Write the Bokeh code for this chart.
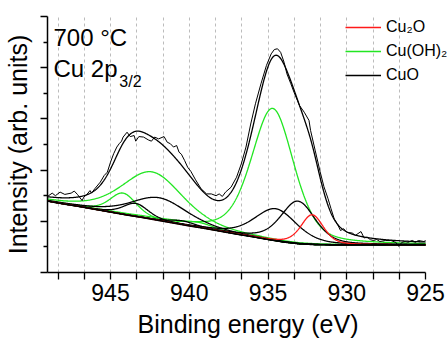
import numpy as np
from bokeh.plotting import figure
from bokeh.models import (Range1d, FixedTicker, Label, Legend, LegendItem)
from bokeh.embed import file_html
from bokeh.resources import INLINE

FONT = "Liberation Sans"

# ---- measured spectrum (binding energy eV, intensity arb.) ----
DATA_E = [949.0, 948.7, 948.5, 948.2, 947.9, 947.5, 947.3, 947.1, 946.8, 946.7,
          946.5, 946.3, 946.2, 946.0, 945.65, 945.4, 945.2, 945.0, 944.8, 944.6,
          944.45, 944.3, 944.2, 943.95, 943.75, 943.5, 943.4, 943.2, 942.9, 942.6,
          942.4, 942.2, 941.95, 941.6, 941.4, 941.2, 941.0, 940.8, 940.65, 940.5,
          940.3, 940.1, 939.9, 939.6, 939.25, 938.9, 938.6, 938.3, 938.1, 937.9,
          937.7, 937.35, 937.0, 936.7, 936.4, 936.1, 935.8, 935.45, 935.1, 934.8,
          934.6, 934.4, 934.2, 933.98, 933.8, 933.55, 933.35, 933.0, 932.7, 932.4,
          932.3, 932.0, 931.7, 931.45, 931.2, 931.0, 930.8, 930.6, 930.4, 930.2,
          930.0, 929.65, 929.45, 929.1, 928.9, 928.7, 928.5, 928.3, 928.1, 927.9,
          927.55, 927.2, 926.9, 926.7, 926.5, 926.3, 926.1, 925.85, 925.65, 925.45,
          925.1, 925.0]
DATA_Y = [2.97, 3.10, 3.00, 3.14, 3.05, 3.10, 3.18, 3.05, 2.81, 2.94,
          3.05, 3.20, 3.10, 3.27, 3.53, 3.79, 3.92, 4.31, 4.64, 4.90,
          5.03, 5.13, 5.29, 5.48, 5.31, 5.35, 5.13, 5.31, 5.29, 5.18,
          5.13, 5.29, 5.22, 5.31, 5.09, 5.03, 4.90, 4.96, 4.70, 4.62,
          4.38, 4.11, 3.95, 3.62, 3.27, 3.07, 3.07, 3.00, 3.07, 2.97,
          3.14, 3.33, 3.72, 4.24, 4.90, 5.80, 6.59, 7.37, 8.09, 8.54,
          8.71, 8.74, 8.60, 8.21, 7.76, 7.37, 7.04, 6.52, 6.26, 5.94,
          5.55, 4.75, 3.95, 3.35, 2.90, 2.49, 2.10, 1.90, 1.64, 1.71,
          1.57, 1.54, 1.45, 1.60, 1.35, 1.38, 1.28, 1.25, 1.29, 1.21,
          1.25, 1.25, 1.18, 1.02, 1.18, 1.21, 1.18, 1.25, 1.18, 1.25,
          1.21, 1.25]

# ---- fitted background (read every 1 eV) ----
BG_E = [925, 926, 927, 928, 929, 930, 931, 932, 933, 934, 935, 936, 937,
        938, 939, 940, 941, 942, 943, 944, 945, 946, 947, 948, 949]
BG_Y = [1.08, 1.08, 1.08, 1.08, 1.08, 1.08, 1.08, 1.09, 1.12, 1.19, 1.29, 1.40, 1.50,
        1.61, 1.72, 1.82, 1.93, 2.04, 2.15, 2.25, 2.36, 2.47, 2.58, 2.68, 2.79]

# ---- fitted components: centre (eV), height, FWHM (eV) ----
CU2O_C = [932.2]
CU2O_H = [1.16]
CU2O_W = [1.7]

CUOH2_C = [934.7, 942.35, 944.2, 939.5]
CUOH2_H = [5.15, 1.85, 0.83, 0.20]
CUOH2_W = [3.2, 4.6, 2.0, 2.5]

CUO_C = [933.1, 934.5, 941.9, 943.4, 940.4]
CUO_H = [1.66, 1.25, 0.89, 0.51, 0.15]
CUO_W = [2.6, 3.2, 4.2, 1.9, 2.0]

ETA = 0.4  # Lorentzian fraction of the pseudo-Voigt line shape

SERIES = ["Cu\u2082O", "Cu(OH)\u2082", "CuO"]
COLORS = ["#ff1a1a", "#22e622", "#000000"]

X_MAJOR = [945, 940, 935, 930, 925]
X_MINOR = [948.333, 946.667, 943.333, 941.667, 938.333, 936.667,
           933.333, 931.667, 928.333, 926.667]
X_GRID = [945, 940, 935, 930]
Y_MAJOR = [0, 2, 4, 6, 8, 10]
Y_MINOR = [1, 3, 5, 7, 9]

# ---- model curves ----
grid_e = np.linspace(925, 949, 961)
bg = np.interp(grid_e, BG_E, BG_Y)


def pv(c, h, w):
    d = (grid_e - c) / w
    return h * ((1 - ETA) * np.exp(-4 * np.log(2) * d * d) + ETA / (1 + 4 * d * d))


# frame spans 949 -> 925 over 379 px; it is extended 23 px to the right so
# the legend (which overhangs the axis end) is not clipped
px_per_ev = 379 / 24.0
x_end = 925 - 23 / px_per_ev

p = figure(width=448, height=342, output_backend="svg", toolbar_location=None,
           x_range=Range1d(949, x_end), y_range=Range1d(0, 10),
           min_border_left=46, min_border_right=0, min_border_top=16,
           min_border_bottom=70)
p.outline_line_color = None
p.background_fill_color = "white"
p.border_fill_color = "white"

envelope = bg.copy()
first = {}
groups = [(CUOH2_C, CUOH2_H, CUOH2_W, 1), (CUO_C, CUO_H, CUO_W, 2),
          (CU2O_C, CU2O_H, CU2O_W, 0)]
for cs, hs, ws, k in groups:
    for c, h, w in zip(cs, hs, ws):
        comp = pv(c, h, w)
        envelope = envelope + comp
        r = p.line(grid_e, bg + comp, line_color=COLORS[k], line_width=1.3)
        first.setdefault(k, r)

p.line(grid_e, bg, line_color="black", line_width=1.6)
p.line(grid_e, envelope, line_color="black", line_width=1.3)
p.line(DATA_E, DATA_Y, line_color="black", line_width=1.0)

# axes
xa = p.xaxis[0]
xa.ticker = FixedTicker(ticks=X_MAJOR, minor_ticks=X_MINOR)
xa.bounds = (925, 949)
xa.axis_label = "Binding energy (eV)"
ya = p.yaxis[0]
ya.ticker = FixedTicker(ticks=Y_MAJOR, minor_ticks=Y_MINOR)
ya.axis_label = "Intensity (arb. units)"
ya.major_label_text_font_size = "1px"
ya.major_label_text_color = None
ya.major_label_standoff = 0
for ax in (xa, ya):
    ax.axis_line_color = "black"
    ax.axis_line_width = 1.5
    ax.major_tick_line_color = "black"
    ax.minor_tick_line_color = "black"
    ax.major_tick_line_width = 1.3
    ax.minor_tick_line_width = 1.3
    ax.major_tick_in = 0
    ax.minor_tick_in = 0
    ax.major_tick_out = 7
    ax.axis_label_text_font = FONT
    ax.axis_label_text_font_style = "normal"
    ax.axis_label_text_font_size = "25px"
    ax.axis_label_text_color = "black"
    ax.major_label_text_font = FONT
xa.major_label_text_color = "black"
xa.minor_tick_out = 7
ya.minor_tick_out = 4
xa.major_label_text_font_size = "23px"
xa.major_label_standoff = 4
xa.axis_label_standoff = 6
ya.axis_label_standoff = 9

p.xgrid.ticker = FixedTicker(ticks=X_GRID, minor_ticks=X_MINOR)
p.xgrid.grid_line_color = "#bcbcbc"
p.xgrid.grid_line_dash = "3 3"
p.xgrid.minor_grid_line_color = "#bcbcbc"
p.xgrid.minor_grid_line_dash = "3 3"
p.ygrid.grid_line_color = None

# annotations
p.add_layout(Label(x=948.62, y=9.17, text="700 \u00b0C", text_font=FONT,
                   text_font_size="24px", text_baseline="alphabetic",
                   text_color="black"))
p.add_layout(Label(x=948.62, y=7.96, text="Cu 2p", text_font=FONT,
                   text_font_size="24px", text_baseline="alphabetic",
                   text_color="black"))
p.add_layout(Label(x=944.44, y=7.46, text="3/2", text_font=FONT,
                   text_font_size="16px", text_baseline="alphabetic",
                   text_color="black"))

legend = Legend(items=[LegendItem(label=SERIES[k], renderers=[first[k]]) for k in (0, 1, 2)],
                location=(298, 187), padding=0, margin=0, spacing=4,
                glyph_width=36, glyph_height=20, label_height=20, label_standoff=5,
                label_text_font=FONT, label_text_font_size="16px",
                label_text_color="black",
                border_line_color=None, background_fill_alpha=0)
p.add_layout(legend)

open("out.html", "w").write(file_html(p, INLINE))
